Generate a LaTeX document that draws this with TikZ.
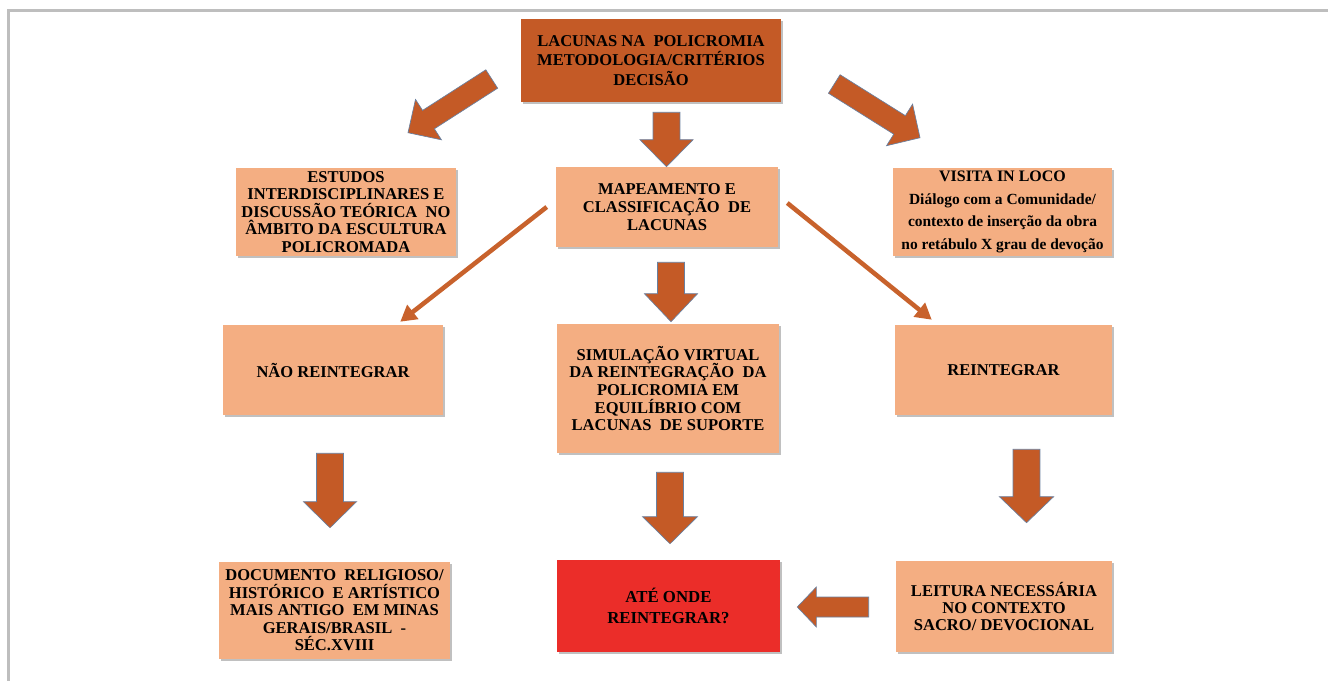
\documentclass[tikz,border=0pt]{standalone}
\usepackage{fontspec}
\setmainfont{Liberation Serif}
\usetikzlibrary{calc,arrows.meta,shadows}
\definecolor{darkor}{RGB}{196,90,38}
\definecolor{lineor}{RGB}{200,98,44}
\definecolor{lightor}{RGB}{244,174,130}
\definecolor{redbox}{RGB}{235,45,41}
\definecolor{framegray}{RGB}{190,190,190}
\definecolor{arrline}{RGB}{105,128,160}

\tikzset{
  box/.style={rectangle, fill=lightor, inner sep=0pt, align=center, text=black,
    font=\bfseries\fontsize{12.4}{13.1}\selectfont,
    drop shadow={shadow xshift=1.6pt, shadow yshift=-1.6pt, opacity=0.35, fill=black!70}},
  barrow/.style={fill=darkor, draw=arrline, line width=0.5pt, line join=miter},
  thinarr/.style={draw=lineor, line width=3.4pt, -{Triangle[length=12pt,width=13pt]}},
}

% block arrow: #1 tail, #2 tip, #3 shaft half width, #4 head half width, #5 head length
\newcommand\blockarrow[5]{%
  \path[barrow] let \p1=#1, \p2=#2,
    \n1={atan2(\y2-\y1,\x2-\x1)},
    \n2={veclen(\x2-\x1,\y2-\y1)-#5},
    \n3={\n1+90}, \n4={\n1-90}
  in ($(\p1)+(\n3:#3)$) -- ($(\p1)+(\n3:#3)+(\n1:\n2)$) -- ($(\p1)+(\n3:#4)+(\n1:\n2)$)
     -- (\p2) -- ($(\p1)+(\n4:#4)+(\n1:\n2)$) -- ($(\p1)+(\n4:#3)+(\n1:\n2)$)
     -- ($(\p1)+(\n4:#3)$) -- cycle;}

\begin{document}
\begin{tikzpicture}[x=0.75pt, y=-0.75pt]
\useasboundingbox (0,0) rectangle (1328,681);
\fill[white] (0,0) rectangle (1328,681);
\draw[framegray, line width=2pt] (8.5,681) -- (8.5,10.3) -- (1328,10.3);

% nodes
\node[box, fill=darkor, minimum width=195pt, minimum height=62.25pt,
  font=\bfseries\fontsize{12.4}{14.6}\selectfont] (top) at (651,60.5)
  {LACUNAS NA\ \ POLICROMIA\\METODOLOGIA/CRITÉRIOS\\DECISÃO};

\node[box, minimum width=165pt, minimum height=66pt] (estudos) at (346,212)
  {ESTUDOS\\INTERDISCIPLINARES E\\DISCUSSÃO TEÓRICA\ \ NO\\ÂMBITO DA ESCULTURA\\POLICROMADA};

\node[box, minimum width=166.5pt, minimum height=60pt,
  font=\bfseries\fontsize{12.4}{13.5}\selectfont] (mapa) at (667,207)
  {MAPEAMENTO E\\CLASSIFICAÇÃO\ \ DE\\LACUNAS};

\node[box, minimum width=164.25pt, minimum height=66pt,
  font=\bfseries\fontsize{11.6}{16.9}\selectfont] (visita) at (1002.5,212)
  {{\fontsize{12}{16.9}\selectfont VISITA IN LOCO}\\Diálogo com a Comunidade/\\contexto de inserção da obra\\no retábulo X grau de devoção};

\node[box, minimum width=165pt, minimum height=67.5pt] (nao) at (333,370)
  {NÃO REINTEGRAR};

\node[box, minimum width=166.5pt, minimum height=96.75pt,
  font=\bfseries\fontsize{12.4}{13.3}\selectfont] (sim) at (668,388.5)
  {SIMULAÇÃO VIRTUAL\\DA REINTEGRAÇÃO\ \ DA\\POLICROMIA EM\\EQUILÍBRIO COM\\LACUNAS\ \ DE SUPORTE};

\node[box, minimum width=162.75pt, minimum height=67.5pt] (reint) at (1003.5,370)
  {REINTEGRAR};

\node[box, minimum width=173.25pt, minimum height=72.75pt] (doc) at (334.5,610.5)
  {DOCUMENTO\ \ RELIGIOSO/\\HISTÓRICO\ \ E ARTÍSTICO\\MAIS ANTIGO\ \ EM MINAS\\GERAIS/BRASIL\ \ -\\SÉC.XVIII};

\node[box, fill=redbox, minimum width=167.25pt, minimum height=69pt,
  font=\bfseries\fontsize{12.6}{15.75}\selectfont] (ate) at (668.5,606)
  {ATÉ ONDE\\REINTEGRAR?};

\node[box, minimum width=162pt, minimum height=68.25pt] (leit) at (1004,606.5)
  {LEITURA NECESSÁRIA\\NO CONTEXTO\\SACRO/ DEVOCIONAL};

% block arrows
\blockarrow{($(top.west)+(-29,18.5)$)}{($(estudos.north)+(62,-35)$)}{8.2pt}{18pt}{18.2pt}
\blockarrow{($(top.east)+(53,23.5)$)}{($(visita.north)+(-82.5,-30)$)}{8.2pt}{18.4pt}{18pt}
\blockarrow{($(top.south)+(15.5,10)$)}{($(mapa.north)+(-0.5,0)$)}{10.1pt}{19.9pt}{20.25pt}
\blockarrow{($(mapa.south)+(4,15)$)}{($(sim.north)+(3,-2)$)}{10.1pt}{19.9pt}{21pt}
\blockarrow{($(nao.south)+(-3,38)$)}{($(doc.north)+(-4.5,-34)$)}{10.1pt}{19.9pt}{19.5pt}
\blockarrow{($(sim.south)+(2,19)$)}{($(ate.north)+(1.5,-16)$)}{10.1pt}{20.6pt}{20.25pt}
\blockarrow{($(reint.south)+(23,34)$)}{($(leit.north)+(22.5,-38)$)}{10.1pt}{20.3pt}{19.5pt}
\blockarrow{($(leit.west)+(-27,0.5)$)}{($(ate.east)+(17,1)$)}{7.5pt}{15pt}{14.3pt}

% thin arrows
\draw[thinarr] ($(mapa.west)+(-9,0)$) -- ($(nao.north east)+(-43,-3)$);
\draw[thinarr] ($(mapa.east)+(9,-4)$) -- ($(reint.north west)+(37,-5)$);
\end{tikzpicture}
\end{document}
